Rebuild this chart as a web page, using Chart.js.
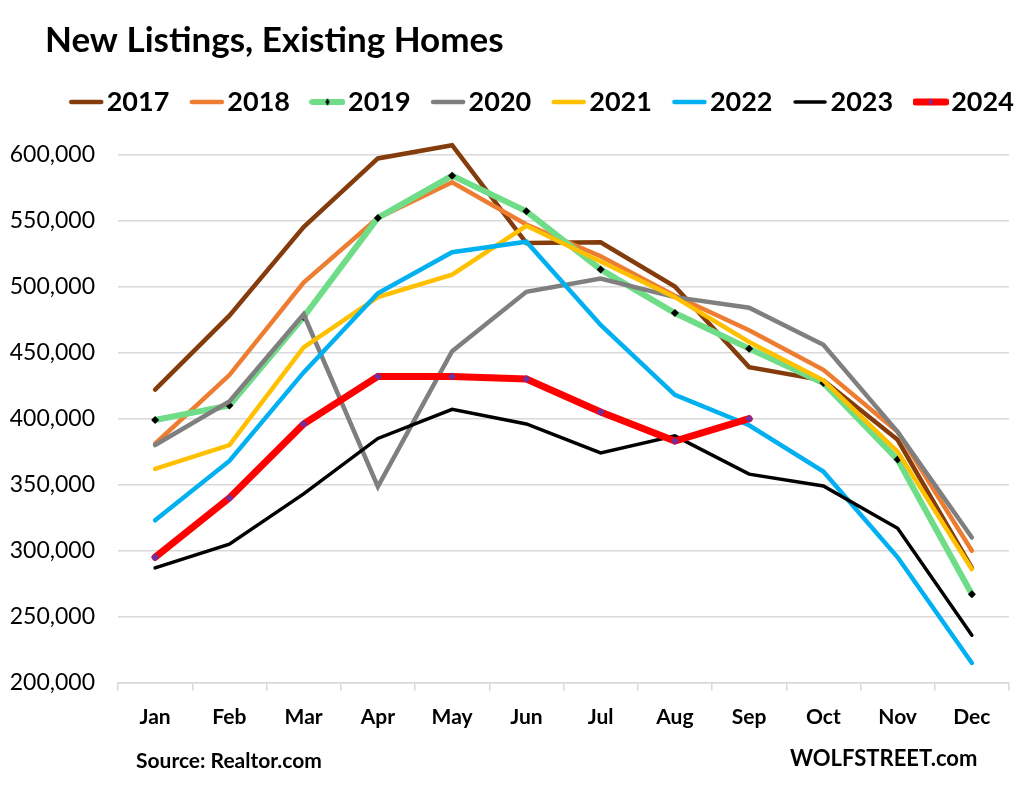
<!DOCTYPE html>
<html>
<head>
<meta charset="utf-8">
<title>New Listings, Existing Homes</title>
<script src="https://cdn.jsdelivr.net/npm/chart.js@4/dist/chart.umd.js"></script>
<style>
  html, body { margin: 0; background: #fff; }
  #wrap { position: relative; width: 1024px; height: 786px; font-family: Lato, sans-serif; }
  #source { position: absolute; left: 136px; top: 747px; font-size: 21px; font-weight: 700; color: #000; }
  #brand { position: absolute; left: 790px; top: 744px; font-size: 22px; font-weight: 700; color: #000; }
</style>
</head>
<body>
<div id="wrap">
  <canvas id="chart" width="1024" height="786"></canvas>
  <div id="source">Source: Realtor.com</div>
  <div id="brand">WOLFSTREET.com</div>
</div>
<script>
const months = ['Jan', 'Feb', 'Mar', 'Apr', 'May', 'Jun', 'Jul', 'Aug', 'Sep', 'Oct', 'Nov', 'Dec'];

const y2017 = [422000, 478000, 545000, 597000, 607000, 533000, 533500, 500000, 439000, 429000, 384000, 287000];
const y2018 = [381000, 433000, 503000, 552000, 579000, 547000, 523000, 493000, 467000, 437000, 390000, 300000];
const y2019 = [399000, 410000, 477000, 552000, 584000, 557000, 513000, 480000, 453000, 427000, 369000, 267000];
const y2020 = [380000, 413000, 479000, 348500, 451000, 496000, 506000, 492000, 484000, 456000, 390000, 310000];
const y2021 = [362000, 380000, 454000, 492000, 509000, 546000, 519000, 492000, 458000, 429000, 375000, 286000];
const y2022 = [323000, 368000, 435000, 495000, 526000, 534000, 471000, 418000, 395000, 360000, 295000, 215000];
const y2023 = [287000, 305000, 343000, 385000, 407000, 396000, 374000, 387000, 358000, 349000, 317000, 236000];
const y2024 = [295000, 340000, 396000, 432000, 432000, 430000, 405000, 383000, 400000];

const FONT = 'Lato, sans-serif';

// legend swatch: short rounded line, with the marker on top if the series has one
function swatch(color, width, marker) {
    const c = document.createElement('canvas');
    c.width = 36;
    c.height = 14;
    const ctx = c.getContext('2d');
    ctx.strokeStyle = color;
    ctx.lineWidth = width;
    ctx.lineCap = 'round';
    ctx.beginPath();
    ctx.moveTo(3, 7);
    ctx.lineTo(33, 7);
    ctx.stroke();
    if (marker) {
        ctx.fillStyle = marker;
        ctx.beginPath();
        ctx.moveTo(18, 3);
        ctx.lineTo(20, 7);
        ctx.lineTo(18, 11);
        ctx.lineTo(16, 7);
        ctx.fill();
    }
    return c;
}

function serie(label, data, color, width, order, marker) {
    return {
        label: label,
        data: data,
        borderColor: color,
        backgroundColor: color,
        borderWidth: width,
        borderCapStyle: 'round',
        borderJoinStyle: 'miter',
        tension: 0,
        clip: false,
        order: order,
        pointStyle: marker ? 'rectRot' : false,
        pointRadius: marker ? 4 : 0,
        pointBackgroundColor: marker,
        pointBorderWidth: 0,
        swatch: swatch(color, width, marker)
    };
}

// title and legend sit off the plot's own left edge in the original
const placeBlocks = {
    id: 'placeBlocks',
    afterLayout(chart) {
        chart.titleBlock.left += 45;
        chart.titleBlock.right += 45;
        chart.legend.left += 42;
        chart.legend.right += 42;
        chart.legend.top -= 29;
        chart.legend.bottom -= 29;
    }
};

new Chart(document.getElementById('chart'), {
    type: 'line',
    data: {
        labels: months,
        datasets: [
            serie('2017', y2017, '#843C0C', 4.5, 8),
            serie('2018', y2018, '#ED7D31', 4.5, 7),
            serie('2019', y2019, '#6FDD87', 6, 6, '#000000'),
            serie('2020', y2020, '#7F7F7F', 4.5, 5),
            serie('2021', y2021, '#FFC000', 4.5, 4),
            serie('2022', y2022, '#00B0F0', 4.5, 3),
            serie('2023', y2023, '#000000', 3.5, 2),
            serie('2024', y2024, '#FF0000', 7, 1, '#7030A0')
        ]
    },
    plugins: [placeBlocks],
    options: {
        responsive: false,
        animation: false,
        layout: { padding: { top: 20, left: 0, right: 15, bottom: 42 } },
        plugins: {
            tooltip: { enabled: false },
            title: {
                display: true,
                text: 'New Listings, Existing Homes',
                align: 'start',
                color: '#000',
                font: { family: FONT, size: 35, weight: '700' },
                padding: { top: 0, bottom: 25 }
            },
            legend: {
                display: true,
                position: 'top',
                labels: {
                    usePointStyle: true,
                    pointStyleWidth: 14,
                    padding: 30.5,
                    color: '#000',
                    font: { family: FONT, size: 27, weight: '700' },
                    generateLabels(chart) {
                        return chart.data.datasets.map((ds, i) => ({
                            text: ds.label,
                            datasetIndex: i,
                            pointStyle: ds.swatch,
                            fontColor: '#000',
                            lineWidth: 0
                        }));
                    }
                }
            }
        },
        scales: {
            x: {
                offset: true,
                border: { color: '#D9D9D9', width: 1.5 },
                grid: { offset: true, drawOnChartArea: false, drawTicks: true, tickLength: 8, color: '#D9D9D9', lineWidth: 1.5 },
                ticks: { color: '#000', padding: 14, maxRotation: 0, font: { family: FONT, size: 21, weight: '700' } }
            },
            y: {
                min: 200000,
                max: 600000,
                afterFit(scale) { scale.width = 118; },
                border: { display: false },
                grid: { color: '#D9D9D9', lineWidth: 1.5, tickLength: 0 },
                ticks: {
                    stepSize: 50000,
                    color: '#000',
                    padding: 23,
                    font: { family: FONT, size: 23 },
                    callback: v => v.toLocaleString('en-US')
                }
            }
        }
    }
});
</script>
</body>
</html>
